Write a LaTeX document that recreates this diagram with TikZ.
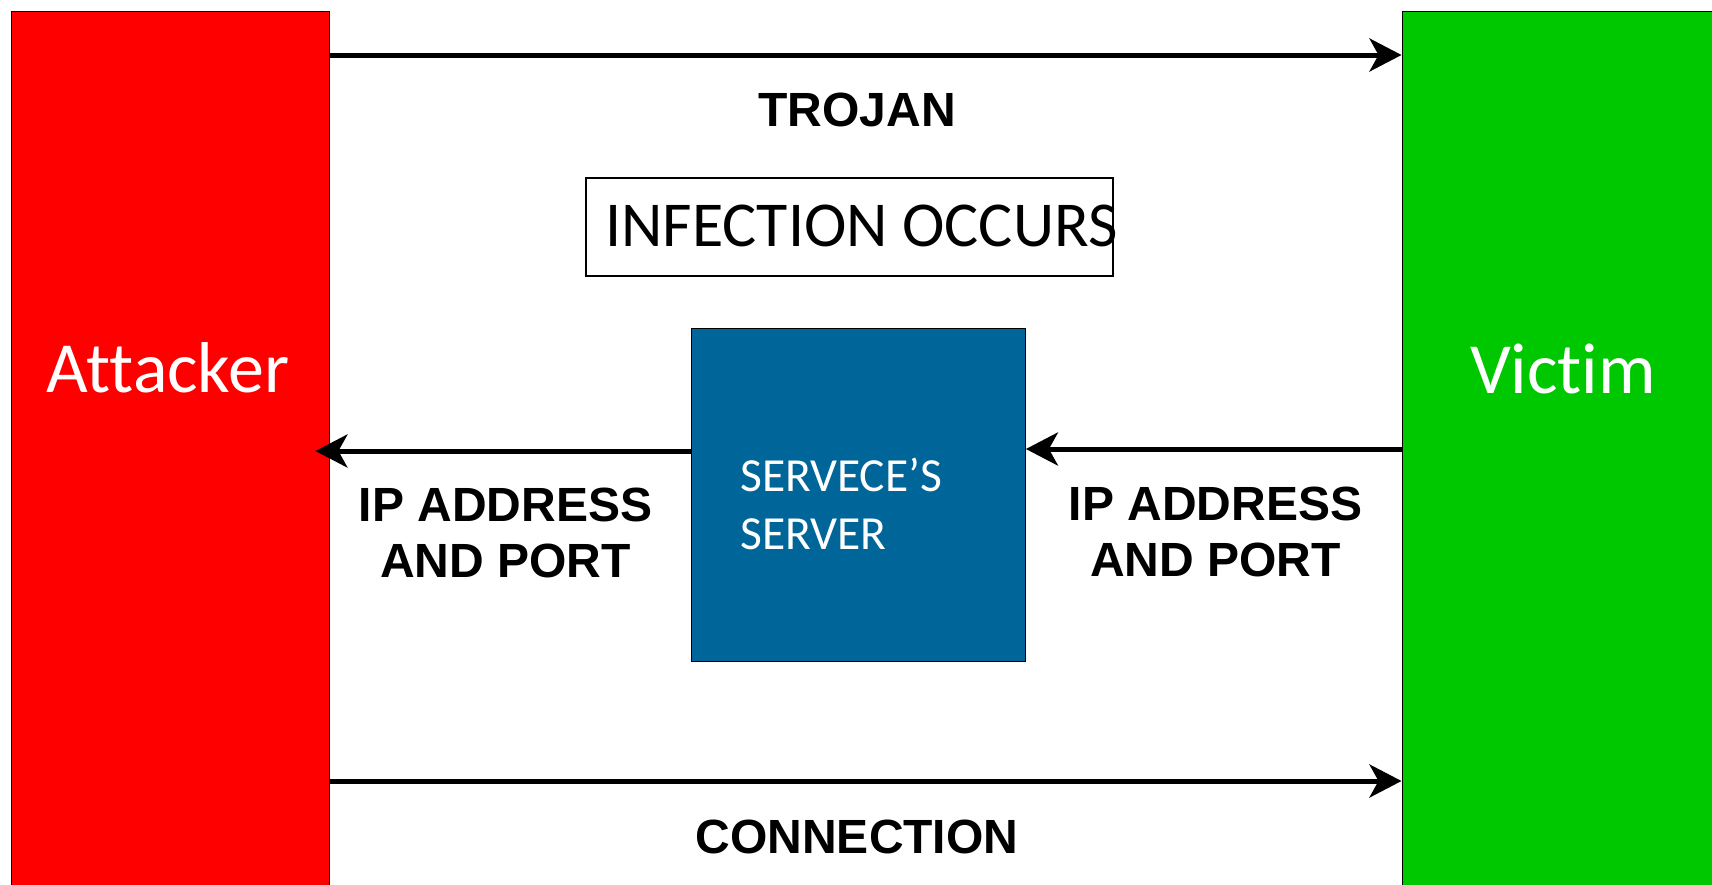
\documentclass[tikz,border=0pt]{standalone}
\usepackage{fontspec}
\setmainfont{Liberation Sans}
\newfontfamily\calib[Ligatures={NoCommon,NoContextual}]{Carlito}
\usetikzlibrary{arrows.meta}
\definecolor{attred}{RGB}{255,0,0}
\definecolor{vicgreen}{RGB}{0,200,0}
\definecolor{srvblue}{RGB}{0,102,153}
\begin{document}
\begin{tikzpicture}[x=1pt,y=-1pt,
  panel/.style={draw=black, line width=1.4pt, anchor=north west, inner sep=0pt},
  flow/.style={line width=5pt, -{Stealth[length=32pt,width=33pt,inset=9pt]}},
  boldlabel/.style={font=\fontsize{48}{56}\selectfont\bfseries, align=center, inner sep=0pt},
  capslabel/.style={font=\fontsize{48}{58}\selectfont\bfseries, inner sep=0pt, anchor=base},
  sidelabel/.style={font=\calib\fontsize{72}{86}\selectfont, text=white, inner sep=0pt, anchor=base}]
\useasboundingbox (0,0) rectangle (1712,884);

% the two end points of the exchange
\node[panel, fill=attred, minimum width=318.5pt, minimum height=900pt] (att) at (10.5,10.5) {};
\node[panel, fill=vicgreen, minimum width=330pt, minimum height=900pt] (vic) at (1401.5,10.5) {};

% infection box and the intermediate server
\node[panel, line width=2pt, minimum width=527pt, minimum height=98pt] (inf) at (585,177) {};
\node[panel, fill=srvblue, minimum width=333.5pt, minimum height=332.5pt] (srv) at (691,328) {};

% texts
\node[sidelabel] (attlbl) at (168,392) {Attacker};
\node[sidelabel] (viclbl) at (1563,393) {Victim};
\node[anchor=base west, font=\calib\fontsize{64}{77}\selectfont, inner sep=0pt] (inflbl) at (605,246.5) {INFECTION OCCURS};
\node[anchor=north west, font=\calib\fontsize{47.5}{58}\selectfont, text=white, align=left, inner sep=0pt] (srvlbl) at (740,458) {SERVECE’S\\SERVER};
\node[capslabel] (trojan) at (857,126.5) {TROJAN};
\node[capslabel] (conn) at (857,853) {CONNECTION};
\node[boldlabel, anchor=north] (ipl) at (505.5,488) {IP ADDRESS\\AND PORT};
\node[boldlabel, anchor=north] (ipr) at (1215.5,487) {IP ADDRESS\\AND PORT};

% rows of the connectors
\coordinate (toprow) at (0,55);
\coordinate (botrow) at (0,781);
\coordinate (lrow) at (0,451);
\coordinate (rrow) at (0,449);

\draw[flow] (att.east |- toprow) -- (vic.west |- toprow);
\draw[flow] (att.east |- botrow) -- (vic.west |- botrow);
\draw[flow, shorten >=-15pt] (srv.west |- lrow) -- (att.east |- lrow);
\draw[flow] (vic.west |- rrow) -- (srv.east |- rrow);
\end{tikzpicture}
\end{document}
